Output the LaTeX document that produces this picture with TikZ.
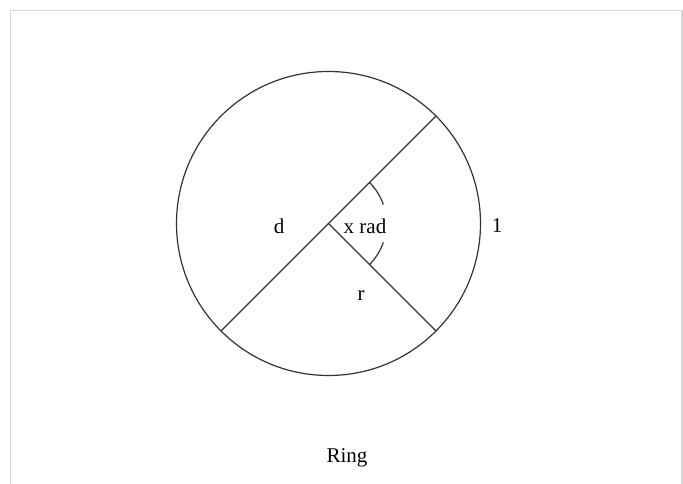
\documentclass[tikz,border=0pt]{standalone}
\usepackage{fontspec}
\setmainfont{Liberation Serif}
\usetikzlibrary{calc}

\begin{document}
\begin{tikzpicture}[
    x=1pt, y=1pt,
    ring_line/.style={draw=black!80, line width=1.2pt},
    ring_label/.style={font=\fontsize{21}{24}\selectfont, inner sep=0pt},
    frame_line/.style={draw=black!16, line width=1.5pt}
]
\useasboundingbox (0,0) rectangle (683,484);
\draw[frame_line] (10.7,0) -- (10.7,473.3) -- (682,473.3) -- (682,0);
\coordinate (O) at (328.5,260.5);
\coordinate (A) at ($(O)+(45:152)$);
\coordinate (B) at ($(O)+(225:152)$);
\coordinate (R) at ($(O)+(-45:152)$);
\draw[ring_line] (O) circle[radius=152];
\draw[ring_line] (B) -- (A);
\draw[ring_line] (O) -- (R);
\draw[ring_line] ($(O)+(45:58)$) arc[start angle=45, end angle=19, radius=58];
\draw[ring_line] ($(O)+(-19:58)$) arc[start angle=-19, end angle=-45, radius=58];
\node[ring_label] (d)    at (279,258) {d};
\node[ring_label] (xrad) at (365,258) {x rad};
\node[ring_label] (l)    at (497,258) {1};
\node[ring_label] (r)    at (361,188) {r};
\node[ring_label] (ring) at (347,26)  {Ring};
\end{tikzpicture}
\end{document}
